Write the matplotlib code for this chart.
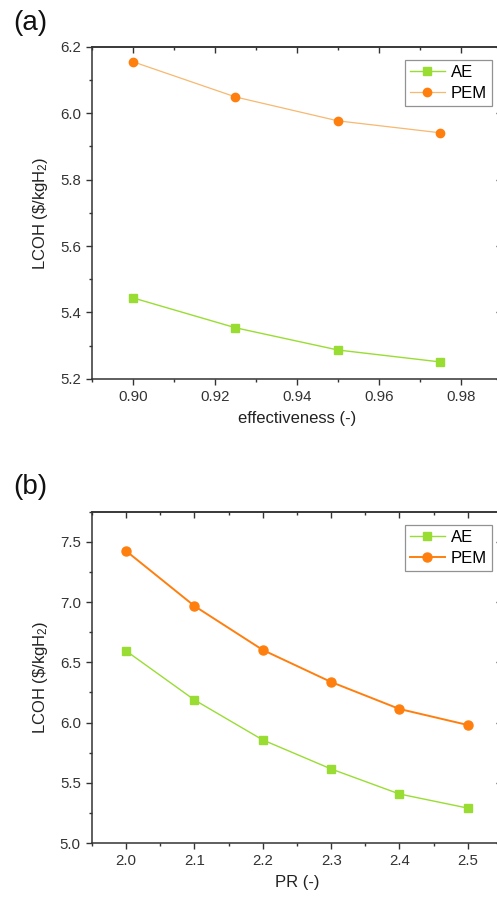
import matplotlib.pyplot as plt
from matplotlib.ticker import MultipleLocator, AutoMinorLocator, NullFormatter

plt.rcParams['font.family'] = ['Liberation Sans', 'DejaVu Sans']
plt.rcParams['mathtext.fontset'] = 'custom'
plt.rcParams['mathtext.rm'] = 'Liberation Sans'
plt.rcParams['mathtext.it'] = 'Liberation Sans:italic'

eff = [0.900, 0.925, 0.950, 0.975]
eff_ae = [5.444, 5.354, 5.287, 5.251]
eff_pem = [6.155, 6.049, 5.977, 5.941]

pr = [2.0, 2.1, 2.2, 2.3, 2.4, 2.5]
pr_ae = [6.595, 6.188, 5.856, 5.615, 5.407, 5.290]
pr_pem = [7.425, 6.968, 6.603, 6.337, 6.113, 5.980]

green = '#99dd33'
orange = '#ff7f0e'
dark = '#333333'

fig = plt.figure(figsize=(4.97, 9.0), dpi=100)
ax1 = fig.add_axes([0.185, 0.579, 0.825, 0.369])
ax2 = fig.add_axes([0.185, 0.0633, 0.825, 0.368])


def style(ax, xstep, ystep):
    for s in ax.spines.values():
        s.set_color(dark)
        s.set_linewidth(1.1)
    ax.xaxis.set_major_locator(MultipleLocator(xstep))
    ax.yaxis.set_major_locator(MultipleLocator(ystep))
    ax.xaxis.set_minor_locator(AutoMinorLocator(2))
    ax.yaxis.set_minor_locator(AutoMinorLocator(2))
    ax.tick_params(which='both', colors=dark, labelsize=10.8, width=1.0,
                   direction='out')
    ax.tick_params(which='major', length=4.5)
    ax.tick_params(which='minor', length=2.5)
    # inward ticks on top and right
    top = ax.secondary_xaxis('top')
    right = ax.secondary_yaxis('right')
    for sec, axis in ((top, top.xaxis), (right, right.yaxis)):
        axis.set_major_locator(MultipleLocator(xstep if sec is top else ystep))
        axis.set_minor_locator(AutoMinorLocator(2))
        axis.set_major_formatter(NullFormatter())
        sec.tick_params(which='both', direction='in', colors=dark, width=1.0)
        sec.tick_params(which='major', length=4.5)
        sec.tick_params(which='minor', length=2.5)
        for s in sec.spines.values():
            s.set_color(dark)
            s.set_linewidth(1.1)


def legend(ax):
    leg = ax.legend(loc='upper right', bbox_to_anchor=(0.983, 0.97),
                    fontsize=12, fancybox=False, edgecolor='#777777',
                    handlelength=2.1, borderpad=0.3, labelspacing=0.35,
                    handletextpad=0.35, borderaxespad=0.2)
    leg.get_frame().set_linewidth(0.9)


ylab = r'LCOH (\$/kgH$_2$)'

# (a)
ax1.plot(eff, eff_ae, '-s', color=green, lw=1.0, ms=5.5, label='AE')
ax1.plot(eff, eff_pem, '-o', color='#f7b870', lw=0.9, ms=6, label='PEM',
         markerfacecolor=orange, markeredgecolor=orange)
ax1.set_xlim(0.89, 0.99)
ax1.set_ylim(5.2, 6.2)
style(ax1, 0.02, 0.2)
ax1.xaxis.set_major_formatter(plt.FormatStrFormatter('%.2f'))
ax1.yaxis.set_major_formatter(plt.FormatStrFormatter('%.1f'))
ax1.set_xlabel('effectiveness (-)', fontsize=12, color='#222222', labelpad=5)
ax1.set_ylabel(ylab, fontsize=12, color='#222222', labelpad=7)
legend(ax1)

# (b)
ax2.plot(pr, pr_ae, '-s', color=green, lw=1.0, ms=5.5, label='AE')
ax2.plot(pr, pr_pem, '-o', color=orange, lw=1.4, ms=6.5, label='PEM')
ax2.set_xlim(1.95, 2.55)
ax2.set_ylim(5.0, 7.75)
style(ax2, 0.1, 0.5)
ax2.xaxis.set_major_formatter(plt.FormatStrFormatter('%.1f'))
ax2.yaxis.set_major_formatter(plt.FormatStrFormatter('%.1f'))
ax2.set_xlabel('PR (-)', fontsize=12, color='#222222', labelpad=5)
ax2.set_ylabel(ylab, fontsize=12, color='#222222', labelpad=7)
legend(ax2)

fig.text(0.026, 0.975, '(a)', fontsize=20, va='center', ha='left', color='#111111')
fig.text(0.026, 0.459, '(b)', fontsize=20, va='center', ha='left', color='#111111')

fig.savefig('out.png', dpi=100)
